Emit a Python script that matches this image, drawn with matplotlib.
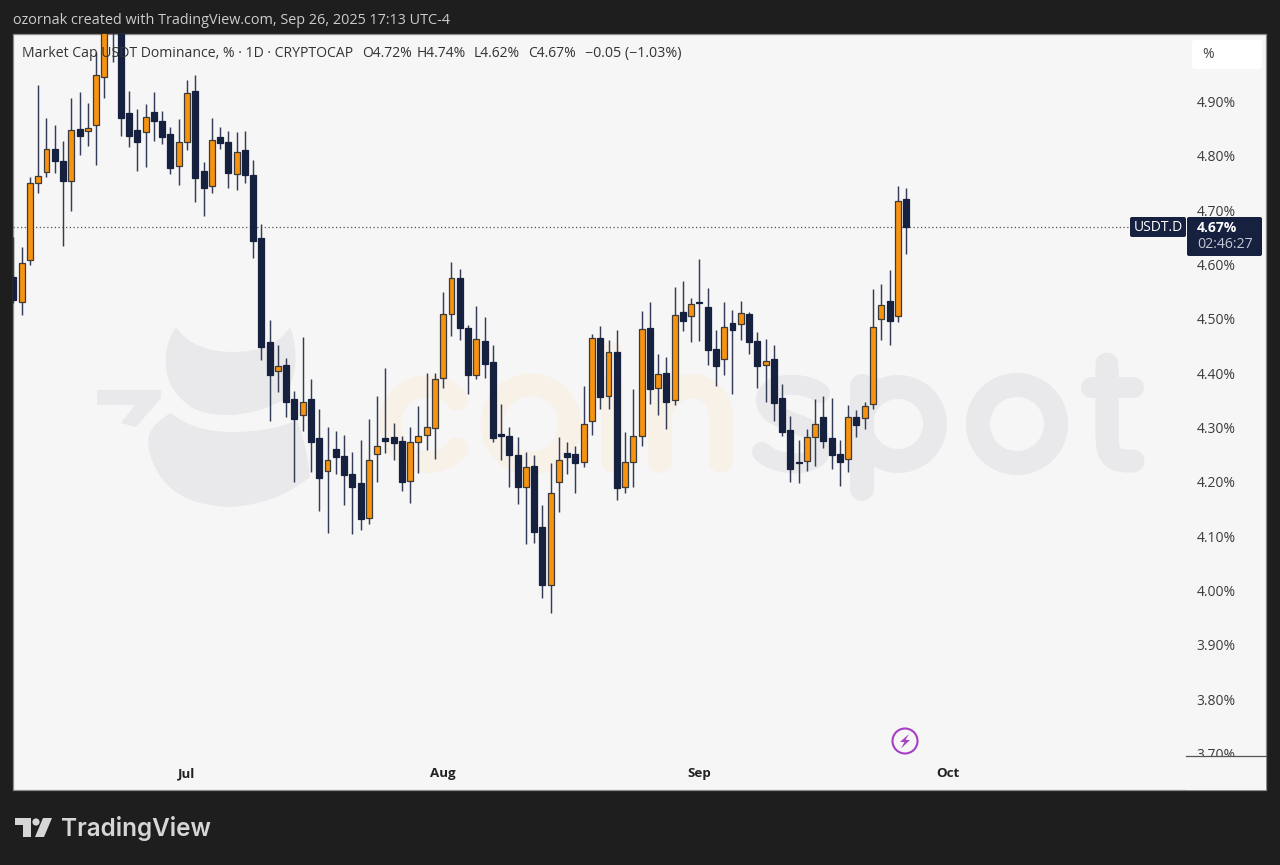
import numpy as np
import matplotlib
matplotlib.use("Agg")
import matplotlib.pyplot as plt
from matplotlib.patches import Rectangle, FancyBboxPatch, Circle, Polygon, PathPatch
from matplotlib.path import Path

# Daily candles, first bar = 10 Jun 2025, last bar = 26 Sep 2025
open_ = [4.577,4.531,4.608,4.750,4.771,4.813,4.791,4.754,4.850,4.845,4.857,4.946,5.060,5.040,4.878,4.848,4.843,4.880,4.865,4.841,
         4.782,4.826,4.919,4.773,4.745,4.835,4.826,4.767,4.810,4.765,4.649,4.457,4.405,4.415,4.352,4.324,4.352,4.280,4.221,4.260,
         4.247,4.215,4.198,4.133,4.252,4.280,4.282,4.276,4.202,4.274,4.287,4.300,4.391,4.509,4.575,4.483,4.396,4.459,4.420,4.288,
         4.285,4.250,4.190,4.230,4.118,4.011,4.200,4.254,4.252,4.236,4.313,4.465,4.359,4.439,4.190,4.236,4.284,4.483,4.372,4.400,
         4.350,4.513,4.505,4.531,4.522,4.444,4.426,4.492,4.490,4.509,4.459,4.415,4.426,4.354,4.295,4.237,4.239,4.282,4.319,4.280,
         4.252,4.243,4.319,4.317,4.343,4.500,4.533,4.505,4.720]
high = [4.651,4.632,4.762,4.931,4.869,4.856,4.828,4.907,4.917,4.898,4.992,5.070,5.090,5.070,4.919,4.887,4.895,4.917,4.882,4.854,
        4.867,4.939,4.948,4.789,4.869,4.854,4.846,4.843,4.846,4.793,4.675,4.498,4.452,4.428,4.367,4.466,4.389,4.334,4.301,4.293,
        4.287,4.256,4.278,4.315,4.359,4.409,4.308,4.284,4.301,4.339,4.400,4.400,4.549,4.605,4.592,4.488,4.524,4.503,4.452,4.343,
        4.302,4.282,4.256,4.250,4.158,4.234,4.282,4.274,4.267,4.376,4.472,4.487,4.461,4.479,4.291,4.371,4.514,4.531,4.435,4.430,
        4.559,4.570,4.538,4.610,4.557,4.479,4.531,4.516,4.533,4.513,4.476,4.463,4.452,4.380,4.321,4.278,4.298,4.352,4.358,4.354,
        4.278,4.341,4.332,4.348,4.555,4.564,4.590,4.745,4.740]
low = [4.529,4.507,4.599,4.732,4.762,4.769,4.634,4.699,4.802,4.819,4.784,4.906,4.972,4.837,4.817,4.773,4.780,4.828,4.821,4.767,
       4.747,4.810,4.715,4.690,4.732,4.813,4.741,4.738,4.750,4.612,4.424,4.313,4.365,4.319,4.200,4.293,4.219,4.147,4.106,4.215,
       4.157,4.105,4.112,4.122,4.200,4.254,4.241,4.184,4.162,4.217,4.258,4.243,4.372,4.468,4.461,4.362,4.389,4.391,4.274,4.241,
       4.190,4.160,4.086,4.088,3.987,3.959,4.144,4.215,4.180,4.228,4.287,4.335,4.334,4.166,4.180,4.190,4.267,4.343,4.323,4.298,
       4.341,4.477,4.457,4.459,4.415,4.376,4.396,4.362,4.461,4.435,4.372,4.348,4.313,4.284,4.200,4.198,4.221,4.230,4.262,4.223,
       4.193,4.219,4.282,4.298,4.334,4.461,4.452,4.494,4.620]
close = [4.535,4.603,4.750,4.763,4.813,4.791,4.754,4.848,4.837,4.852,4.948,5.040,5.040,4.869,4.837,4.826,4.872,4.865,4.835,4.778,
         4.826,4.915,4.760,4.740,4.830,4.824,4.769,4.808,4.765,4.643,4.448,4.396,4.413,4.348,4.315,4.348,4.274,4.208,4.241,4.245,
         4.212,4.191,4.131,4.241,4.267,4.276,4.271,4.200,4.274,4.285,4.302,4.389,4.509,4.575,4.483,4.396,4.463,4.417,4.280,4.284,
         4.249,4.190,4.228,4.107,4.011,4.179,4.241,4.245,4.234,4.306,4.465,4.357,4.439,4.188,4.236,4.285,4.481,4.371,4.398,4.348,
         4.507,4.496,4.527,4.529,4.442,4.413,4.485,4.479,4.511,4.457,4.413,4.422,4.346,4.291,4.223,4.235,4.282,4.306,4.276,4.249,
         4.236,4.319,4.304,4.339,4.485,4.526,4.496,4.717,4.670]
y_ticks = [3.7,3.8,3.9,4.0,4.1,4.2,4.3,4.4,4.5,4.6,4.7,4.8,4.9]
month_pos = [21,52,83,113]
month_labels = ["Jul","Aug","Sep","Oct"]
last_price = 4.67

W, H = 1280, 865
NAVY = "#16203f"; ORANGE = "#f7930f"; PANEL = "#f6f6f6"; DARK = "#1e1e1e"
UI = ["Open Sans", "DejaVu Sans"]
px = 0.72

fig = plt.figure(figsize=(W/100, H/100), dpi=100, facecolor=DARK)

def pixel_axes(z):
    a = fig.add_axes([0, 0, 1, 1], zorder=z, facecolor="none")
    a.set_xlim(0, W); a.set_ylim(H, 0); a.axis("off")
    return a

# background pane + watermark
bg = pixel_axes(0)
bg.add_patch(Rectangle((13, 34), 1253, 756, fc=PANEL, ec="#8a8a8a", lw=0.9))
GREY = "#e9e9eb"; CREAM = "#f8f1e8"

def blob(a, verts, color):
    codes = [Path.MOVETO] + [Path.CURVE3] * (len(verts) - 1)
    a.add_patch(PathPatch(Path(verts, codes), fc=color, ec="none"))

blob(bg, [(176,327),(193,352),(233,352),(274,352),(290,327),(304,365),(283,400),(256,415),(228,415),(198,415),(186,403),(163,385),(166,355),(167,340),(176,327)], GREY)
blob(bg, [(171,413),(193,432),(233,432),(272,432),(297,420),(307,445),(310,477),(276,505),(228,507),(183,505),(163,480),(145,455),(149,435),(154,422),(171,413)], GREY)
bg.add_patch(Polygon([(97,390),(161,390),(161,398),(136,427),(121,423),(135,405),(97,405)], fc=GREY, ec="none"))

def stroke(verts, codes, color, lw):
    bg.add_patch(PathPatch(Path(verts, codes), fc="none", ec=color, lw=lw*px, capstyle="round", joinstyle="round"))

def ring(cx, cy, r, color, lw, t1=0, t2=360):
    t = np.radians(np.linspace(t1, t2, 120))
    bg.plot(cx + r*np.cos(t), cy - r*np.sin(t), color=color, lw=lw*px, solid_capstyle="round")

L, C4 = Path.LINETO, Path.CURVE4; M = Path.MOVETO
ring(428, 424, 38, CREAM, 22, 40, 320)
ring(531, 424, 39, CREAM, 23)
bg.plot([612, 612], [385, 461], color=CREAM, lw=22*px, solid_capstyle="round")
bg.add_patch(Circle((612, 353), 11, fc=CREAM, ec="none"))
stroke([(660,461),(660,387)], [M, L], CREAM, 24)
stroke([(660,418),(660,397),(681,386),(691,386),(707,386),(721,397),(721,418),(721,461)], [M,C4,C4,C4,C4,C4,C4,L], CREAM, 24)
stroke([(820,393),(808,382),(766,380),(766,400),(766,425),(821,420),(821,447),(821,468),(778,468),(762,452)],
       [M,C4,C4,C4,C4,C4,C4,C4,C4,C4], GREY, 20)
ring(898, 424, 37, GREY, 24)
bg.plot([862, 862], [386, 489], color=GREY, lw=24*px, solid_capstyle="round")
ring(1017, 424, 39, GREY, 24)
stroke([(1107,364),(1107,435),(1107,461),(1117,461),(1133,461)], [M,L,C4,C4,C4], GREY, 23)
bg.plot([1091, 1133], [387, 387], color=GREY, lw=21*px, solid_capstyle="round")

# candles, through real data axes
ax = fig.add_axes([13/W, (H-790)/H, 1253/W, 756/H], zorder=1, facecolor="none")
x = np.arange(len(open_))
o, h, l, c = map(np.array, (open_, high, low, close))
up = c >= o
colors = np.where(up, ORANGE, NAVY)
ax.vlines(x, l, h, color="#343c58", lw=1.05, zorder=2)
ax.bar(x, np.maximum(np.abs(c-o), 0.002), bottom=np.minimum(o, c), width=0.72,
       color=colors, edgecolor=np.where(up, "#3c3a3a", NAVY), lw=0.9, zorder=3)
ax.axhline(last_price, color="#555555", lw=0.9, ls=(0, (1, 2)), zorder=1, xmax=(1130-13)/1253)
ax.set_xlim(21 + (13-187)/8.265, 21 + (1266-187)/8.265)
ax.set_ylim(3.6332, 5.0242)
for s in ax.spines.values():
    s.set_visible(False)
ax.yaxis.tick_right()
ax.set_yticks(y_ticks, [f"{v:.2f}%" for v in y_ticks])
ax.set_xticks(month_pos, month_labels)
ax.tick_params(axis="y", length=0, pad=-50, labelsize=10, labelcolor="#3c3c3c")
ax.tick_params(axis="x", length=0, pad=-16.5, labelsize=9.6, labelcolor="#222222")
for t in ax.get_xticklabels():
    t.set_fontfamily(UI); t.set_fontweight("bold")
for t in ax.get_yticklabels():
    t.set_fontfamily(UI); t.set_ha("left")

# chrome overlay
ov = pixel_axes(2)
ov.add_patch(Rectangle((1186, 756.5), 80, 33, fc=PANEL, ec="none", zorder=1))
ov.plot([1186, 1266], [756, 756], color="#555555", lw=0.9, zorder=2)
ov.add_patch(FancyBboxPatch((1194, 42), 66, 25, boxstyle="round,pad=2,rounding_size=3", fc="white", ec="none"))
ov.text(1202, 54, "%", fontsize=10, color="#444444", family=UI, va="center")
ov.text(13, 20, "ozornak created with TradingView.com, Sep 26, 2025 17:13 UTC-4", fontsize=10.35, color="#cccccc", family=UI, va="center")
ov.text(22, 53.5, "Market Cap USDT Dominance, % · 1D · CRYPTOCAP", fontsize=10.1, color="#333333", family=UI, va="center")
ov.text(362, 53.5, "O4.72%", fontsize=10, color="#333333", family=UI, va="center")
ov.text(417, 53.5, "H4.74%", fontsize=10, color="#333333", family=UI, va="center")
ov.text(474, 53.5, "L4.62%", fontsize=10, color="#333333", family=UI, va="center")
ov.text(528, 53.5, "C4.67%", fontsize=10, color="#333333", family=UI, va="center")
ov.text(585, 53.5, "−0.05 (−1.03%)", fontsize=10.3, color="#333333", family=UI, va="center")
ov.add_patch(FancyBboxPatch((1131, 218), 54, 18, boxstyle="round,pad=1,rounding_size=2", fc=NAVY, ec="none"))
ov.add_patch(FancyBboxPatch((1188, 218), 73, 37, boxstyle="round,pad=1,rounding_size=2", fc=NAVY, ec="none"))
ov.text(1158, 227.5, "USDT.D", fontsize=10, color="white", family=UI, va="center", ha="center")
ov.text(1197, 227.5, "4.67%", fontsize=10, color="white", family=UI, va="center", fontweight="bold")
ov.text(1197, 245, "02:46:27", fontsize=10.2, color="#c4c8d4", family=UI, va="center")
# lightning mark
ov.add_patch(Circle((905, 741), 12.5, fc="none", ec="#a63fc6", lw=1.5))
ov.add_patch(Polygon([(909,734),(900,742),(904.5,742),(901,748.5),(910,740),(905.5,740)], fc="#a63fc6", ec="none"))
# TradingView mark
LOGO = "#d6d6d6"
ov.add_patch(Polygon([(15,818),(31,818),(31,837),(23,837),(23,825),(15,825)], fc=LOGO, ec="none"))
ov.add_patch(Circle((36, 822), 3.6, fc=LOGO, ec="none"))
ov.add_patch(Polygon([(43,818),(52,818),(44,837),(35,837)], fc=LOGO, ec="none"))
ov.text(60.5, 828.5, "TradingView", fontsize=17.5, color=LOGO, family=["Inter", "DejaVu Sans"], fontweight="semibold", va="center")

fig.savefig("out.png", dpi=100, facecolor=DARK)
